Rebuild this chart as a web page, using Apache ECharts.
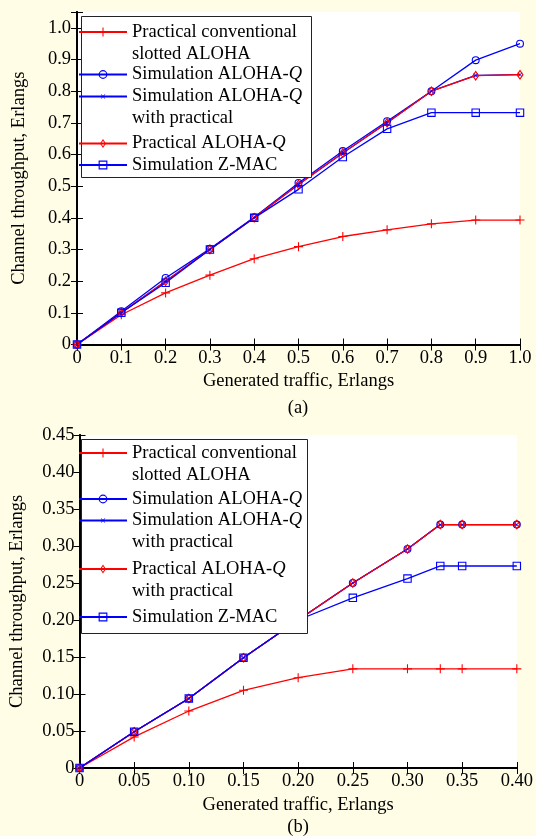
<html>
<head>
<meta charset="utf-8">
<title>Channel throughput</title>
<style>
body { margin: 0; background: #fffde6; }
#main { width: 536px; height: 836px; }
</style>
</head>
<body>
<div id="main"></div>
<script src="https://cdn.jsdelivr.net/npm/echarts@6/dist/echarts.min.js"></script>
<script>
// (a) generated traffic 0..1 Erlang
var trafficA = [0, 0.1, 0.2, 0.3, 0.4, 0.5, 0.6, 0.7, 0.8, 0.9, 1.0];
var convA    = [0, 0.094, 0.163, 0.219, 0.271, 0.309, 0.341, 0.362, 0.381, 0.393, 0.393];
var simQA    = [0, 0.105, 0.21, 0.302, 0.402, 0.51, 0.611, 0.705, 0.80, 0.898, 0.95];
var simPracA = [0, 0.1, 0.2, 0.3, 0.4, 0.505, 0.605, 0.70, 0.80, 0.85, 0.852];
var pracQA   = [0, 0.1, 0.2, 0.3, 0.4, 0.505, 0.605, 0.70, 0.80, 0.849, 0.852];
var zmacA    = [0, 0.1, 0.195, 0.30, 0.40, 0.49, 0.592, 0.681, 0.732, 0.732, 0.732];

// (b) generated traffic 0..0.4 Erlang
var trafficB = [0, 0.05, 0.10, 0.15, 0.20, 0.25, 0.30, 0.33, 0.35, 0.40];
var convB    = [0, 0.042, 0.077, 0.105, 0.122, 0.134, 0.134, 0.134, 0.134, 0.134];
var simQB    = [0, 0.049, 0.094, 0.149, 0.20, 0.25, 0.296, 0.329, 0.329, 0.329];
var simPracB = [0, 0.049, 0.094, 0.149, 0.20, 0.25, 0.296, 0.329, 0.329, 0.329];
var pracQB   = [0, 0.049, 0.094, 0.149, 0.20, 0.25, 0.296, 0.329, 0.329, 0.329];
var zmacB    = [0, 0.049, 0.094, 0.149, 0.20, 0.23, 0.256, 0.273, 0.273, 0.273];

var legendText = {
    'Practical conventional slotted ALOHA': 'Practical conventional\nslotted ALOHA',
    'Simulation ALOHA-Q': 'Simulation ALOHA-{q|Q}',
    'Simulation ALOHA-Q with practical': 'Simulation ALOHA-{q|Q}\nwith practical',
    'Practical ALOHA-Q': 'Practical ALOHA-{q|Q}',
    'Practical ALOHA-Q with practical': 'Practical ALOHA-{q|Q}\nwith practical',
    'Simulation Z-MAC': 'Simulation Z-MAC'
};

var FONT = 'Liberation Serif';
var FS = 18.5;
var RED = '#ff0000', BLUE = '#0000ff';

// marker shapes (filled outlines so the legend picks them up too)
var plusMark   = 'path://M0,4.4L10,4.4L10,5.6L0,5.6Z M4.4,0L5.6,0L5.6,10L4.4,10Z';
var crossMark  = 'path://M0,0L0.01,0L0,0.01Z M20,20L19.99,20L20,19.99Z M5,6L6,5L15,14L14,15Z M14,5L15,6L6,15L5,14Z';
var circleMark = 'path://M5,0A5,5 0 1,1 5,10A5,5 0 1,1 5,0Z M5,1.4A3.6,3.6 0 1,0 5,8.6A3.6,3.6 0 1,0 5,1.4Z';
var rectMark   = 'path://M0,0L10,0L10,10L0,10Z M1.3,1.3L1.3,8.7L8.7,8.7L8.7,1.3Z';
var diamMark   = 'path://M0,5L0.01,5L0,5.01Z M10,5L9.99,5L10,4.99Z M5,0L8.4,5L5,10L1.6,5Z M5,1.9L2.9,5L5,8.1L7.1,5Z';

function pairs(xs, ys) {
    return xs.map(function (x, i) { return [x, ys[i]]; });
}

function line(name, xs, ys, color, mark, size, axis) {
    return {
        name: name,
        type: 'line',
        z: 2,
        xAxisIndex: axis,
        yAxisIndex: axis,
        data: pairs(xs, ys),
        symbol: mark,
        symbolSize: size,
        showAllSymbol: true,
        itemStyle: { color: color },
        lineStyle: { color: color, width: 1.3 },
        emphasis: { disabled: true },
        animation: false
    };
}

function xAxisOf(grid, max, step, pos, name, gap) {
    return {
        gridIndex: grid, type: 'value', min: 0, max: max, interval: step, position: pos,
        axisLine: { lineStyle: { color: '#000', width: 2 } },
        axisTick: { inside: true, length: 6, lineStyle: { color: '#000', width: 1 } },
        splitLine: { show: false },
        axisLabel: {
            show: pos === 'bottom', margin: 4, color: '#000', fontFamily: FONT, fontSize: FS,
            formatter: function (v) { return v === 0 ? '0' : v.toFixed(step < 0.1 ? 2 : 1); }
        },
        name: name, nameLocation: 'middle', nameGap: gap,
        nameTextStyle: { color: '#000', fontFamily: FONT, fontSize: FS }
    };
}

function yAxisOf(grid, max, top, step, pos, name, gap, margin) {
    return {
        gridIndex: grid, type: 'value', min: 0, max: max, interval: step, position: pos,
        axisLine: { lineStyle: { color: '#000', width: 2 } },
        axisTick: { inside: true, length: 6, lineStyle: { color: '#000', width: 1 } },
        splitLine: { show: false },
        axisLabel: {
            show: pos === 'left', margin: margin, color: '#000', fontFamily: FONT, fontSize: FS,
            formatter: function (v) {
                if (v === 0) return '0';
                if (v > top + 1e-6) return '';
                return v.toFixed(step < 0.1 ? 2 : 1);
            }
        },
        name: name, nameLocation: 'middle', nameGap: gap,
        nameTextStyle: { color: '#000', fontFamily: FONT, fontSize: FS }
    };
}

// one legend block per entry so the icon sits on the first text line
function legendItem(name, iconY) {
    var twoLines = legendText[name].indexOf('\n') >= 0;
    return {
        data: [name],
        left: 78,
        top: iconY - (twoLines ? 33 : 11),
        padding: 0,
        itemWidth: 48,
        itemHeight: 11,
        selectedMode: false,
        formatter: function (n) { return legendText[n]; },
        textStyle: {
            color: '#000', fontFamily: FONT, fontSize: FS, lineHeight: 22,
            padding: twoLines ? [22, 0, 0, 0] : 0,
            rich: { q: { fontFamily: FONT, fontSize: FS, fontStyle: 'italic', lineHeight: 22 } }
        }
    };
}

var yName = 'Channel throughput, Erlangs';
var xName = 'Generated traffic, Erlangs';

var myChart = echarts.init(document.getElementById('main'));
myChart.setOption({
    backgroundColor: '#fffde6',
    animation: false,
    grid: [
        { left: 77, top: 12, width: 443, height: 332.5, show: true, backgroundColor: '#fff', borderWidth: 0 },
        { left: 77, top: 435, width: 445, height: 333, show: true, backgroundColor: '#fff', borderWidth: 0 }
    ],
    xAxis: [
        xAxisOf(0, 1, 0.1, 'bottom', xName, 27),
        xAxisOf(0, 1, 0.1, 'top', '', 0),
        xAxisOf(1, 0.4, 0.05, 'bottom', xName, 28),
        xAxisOf(1, 0.4, 0.05, 'top', '', 0)
    ],
    yAxis: [
        yAxisOf(0, 1.05, 1.0, 0.1, 'left', yName, 48.5, 6),
        yAxisOf(0, 1.05, 1.0, 0.1, 'right', '', 0, 6),
        yAxisOf(1, 0.45, 0.45, 0.05, 'left', yName, 52.5, 5),
        yAxisOf(1, 0.45, 0.45, 0.05, 'right', '', 0, 5)
    ],
    legend: [
        legendItem('Practical conventional slotted ALOHA', 32),
        legendItem('Simulation ALOHA-Q', 74.5),
        legendItem('Simulation ALOHA-Q with practical', 96.5),
        legendItem('Practical ALOHA-Q', 143.5),
        legendItem('Simulation Z-MAC', 165),
        legendItem('Practical conventional slotted ALOHA', 453),
        legendItem('Simulation ALOHA-Q', 499),
        legendItem('Simulation ALOHA-Q with practical', 520.5),
        legendItem('Practical ALOHA-Q with practical', 569),
        legendItem('Simulation Z-MAC', 617)
    ],
    graphic: [
        { type: 'rect', z: 3, shape: { x: 81.5, y: 16.5, width: 230, height: 161 },
          style: { fill: '#fff', stroke: '#222', lineWidth: 1 } },
        { type: 'rect', z: 3, shape: { x: 81.5, y: 439.5, width: 226, height: 194 },
          style: { fill: '#fff', stroke: '#222', lineWidth: 1 } },
        { type: 'text', x: 298, y: 408,
          style: { text: '(a)', fill: '#000', font: FS + 'px "' + FONT + '"', align: 'center', verticalAlign: 'middle' } },
        { type: 'text', x: 298, y: 827,
          style: { text: '(b)', fill: '#000', font: FS + 'px "' + FONT + '"', align: 'center', verticalAlign: 'middle' } }
    ],
    series: [
        line('Practical conventional slotted ALOHA', trafficA, convA, RED, plusMark, 9, 0),
        line('Simulation ALOHA-Q', trafficA, simQA, BLUE, circleMark, 8, 0),
        line('Simulation ALOHA-Q with practical', trafficA, simPracA, BLUE, crossMark, 9.5, 0),
        line('Practical ALOHA-Q', trafficA, pracQA, RED, diamMark, 10.5, 0),
        line('Simulation Z-MAC', trafficA, zmacA, BLUE, rectMark, 8.5, 0),

        line('Practical conventional slotted ALOHA', trafficB, convB, RED, plusMark, 9, 2),
        line('Simulation ALOHA-Q', trafficB, simQB, BLUE, circleMark, 8, 2),
        line('Simulation ALOHA-Q with practical', trafficB, simPracB, BLUE, crossMark, 9.5, 2),
        line('Practical ALOHA-Q with practical', trafficB, pracQB, RED, diamMark, 10.5, 2),
        line('Simulation Z-MAC', trafficB, zmacB, BLUE, rectMark, 8.5, 2)
    ]
});
</script>
</body>
</html>
